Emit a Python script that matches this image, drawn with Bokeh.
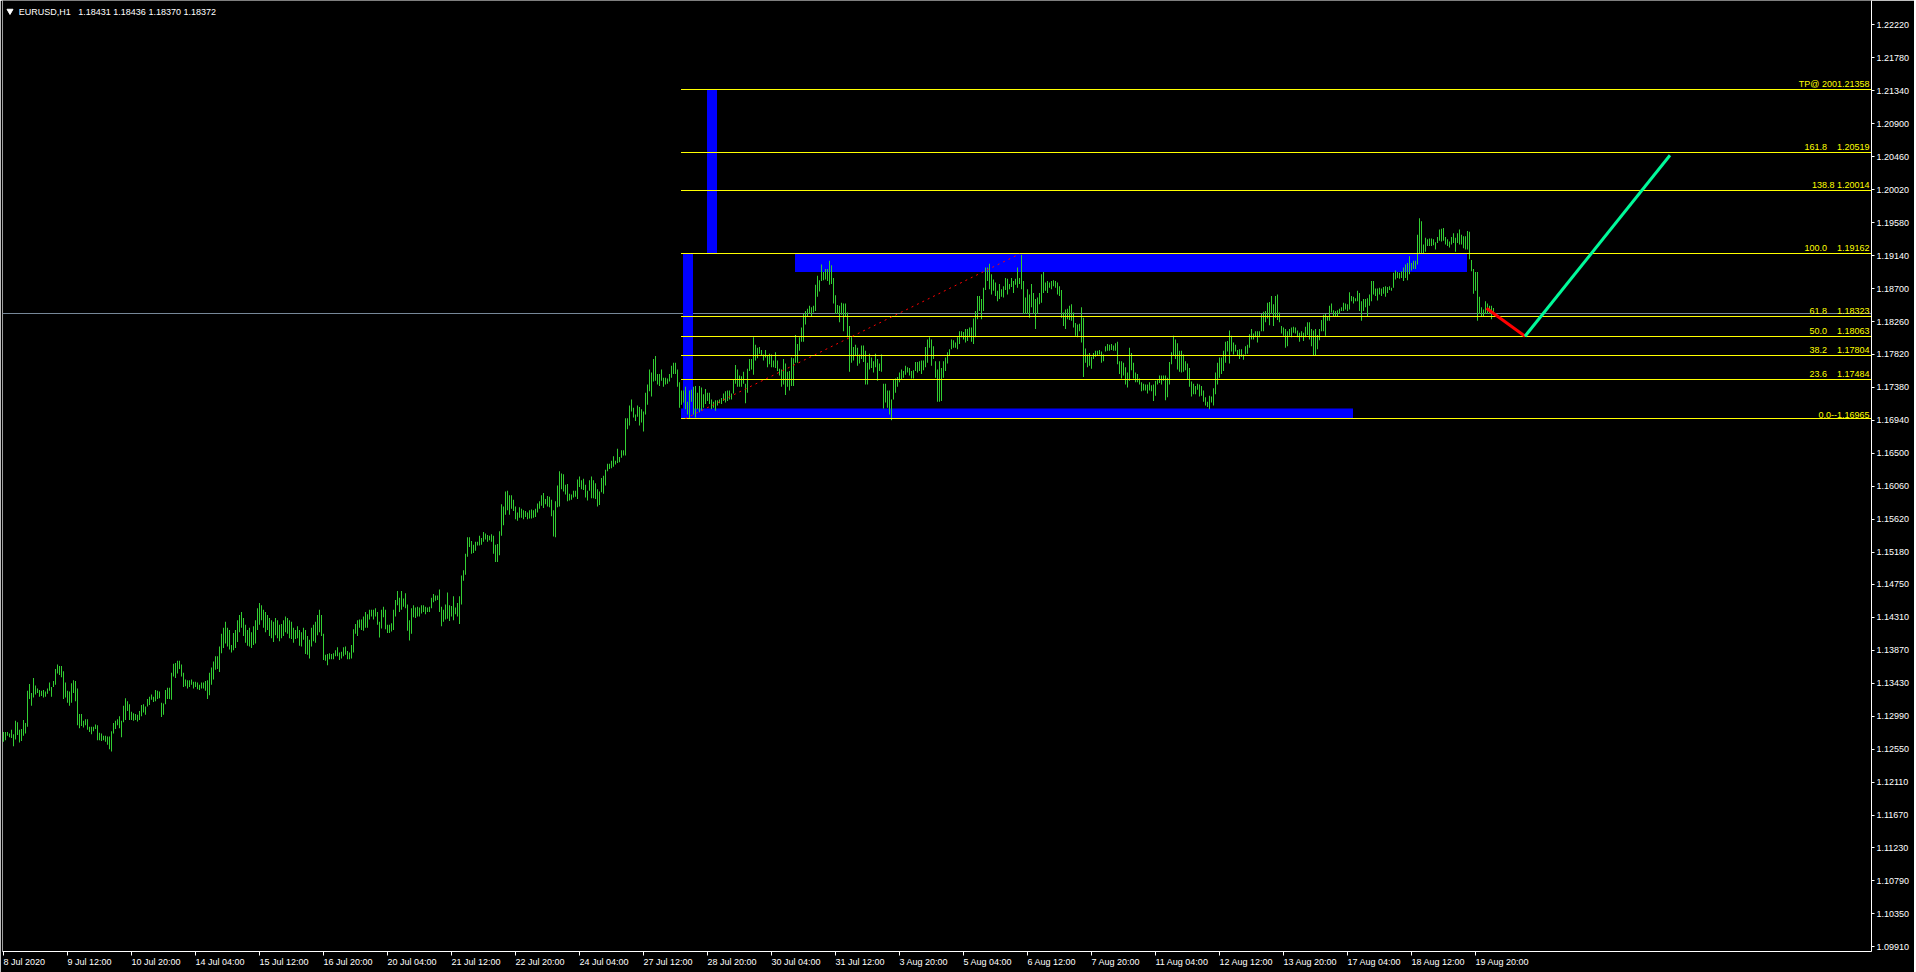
from bokeh.plotting import figure
from bokeh.models import Range1d, FixedTicker, NumeralTickFormatter, Span
from bokeh.core.properties import value
from bokeh.embed import file_html
from bokeh.resources import INLINE

# ------------------------------------------------------------------ data
symbol_title = "EURUSD,H1"
last_ohlc = ["1.18431", "1.18436", "1.18370", "1.18372"]
last_price = 1.18372

# H1 bars, one entry per hour, starting 8 Jul 2020 04:00
bar_high = [
    1.1278, 1.1278, 1.1278, 1.1276, 1.1281, 1.1275, 1.1293, 1.1291, 1.1281, 1.1282,
    1.1294, 1.1290, 1.1333, 1.1342, 1.1330, 1.1350, 1.1340, 1.1336, 1.1334, 1.1333,
    1.1334, 1.1332, 1.1336, 1.1344, 1.1338, 1.1346, 1.1362, 1.1368, 1.1366, 1.1366,
    1.1359, 1.1344, 1.1333, 1.1332, 1.1343, 1.1347, 1.1346, 1.1336, 1.1302, 1.1302,
    1.1293, 1.1295, 1.1295, 1.1285, 1.1285, 1.1285, 1.1288, 1.1287, 1.1277, 1.1276,
    1.1273, 1.1273, 1.1272, 1.1272, 1.1279, 1.1290, 1.1293, 1.1295, 1.1299, 1.1293,
    1.1313, 1.1323, 1.1319, 1.1315, 1.1305, 1.1303, 1.1302, 1.1301, 1.1306, 1.1314,
    1.1315, 1.1312, 1.1322, 1.1325, 1.1328, 1.1325, 1.1334, 1.1333, 1.1332, 1.1317,
    1.1316, 1.1334, 1.1337, 1.1337, 1.1357, 1.1369, 1.1370, 1.1373, 1.1373, 1.1368,
    1.1357, 1.1348, 1.1347, 1.1347, 1.1348, 1.1345, 1.1345, 1.1344, 1.1341, 1.1344,
    1.1344, 1.1346, 1.1347, 1.1357, 1.1364, 1.1372, 1.1379, 1.1379, 1.1392,
    1.1409, 1.1417, 1.1425, 1.1417, 1.1414, 1.1394, 1.1410, 1.1414, 1.1427, 1.1434,
    1.1438, 1.1430, 1.1421, 1.1414, 1.1417, 1.1411, 1.1419, 1.1427, 1.1443, 1.1450,
    1.1447, 1.1441, 1.1438, 1.1434, 1.1430, 1.1427, 1.1425, 1.1430, 1.1427, 1.1421,
    1.1422, 1.1427, 1.1432, 1.1430, 1.1427, 1.1425, 1.1417, 1.1414, 1.1419, 1.1414,
    1.1411, 1.1417, 1.1414, 1.1406, 1.1401, 1.1417, 1.1421, 1.1425, 1.1434, 1.1441,
    1.1434, 1.1409, 1.1381, 1.1382, 1.1383, 1.1382, 1.1383, 1.1387, 1.1391, 1.1384,
    1.1385, 1.1391, 1.1392, 1.1386, 1.1384, 1.1394, 1.1415, 1.1422, 1.1427, 1.1428,
    1.1428, 1.1432, 1.1438, 1.1435, 1.1441, 1.1441, 1.1441, 1.1443, 1.1438, 1.1425,
    1.1441, 1.1445, 1.1441, 1.1421, 1.1421, 1.1423, 1.1441, 1.1454, 1.1466, 1.1457,
    1.1466, 1.1456, 1.1463, 1.1448, 1.1427, 1.1443, 1.1447, 1.1444, 1.1445, 1.1444,
    1.1447, 1.1447, 1.1445, 1.1444, 1.1445, 1.1457, 1.1462, 1.1460, 1.1460, 1.1468,
    1.1445, 1.1441, 1.1448, 1.1464, 1.1447, 1.1446, 1.1459, 1.1444, 1.1450, 1.1459,
    1.1487, 1.1494, 1.1516, 1.1538, 1.1538, 1.1533, 1.1528, 1.1532, 1.1532, 1.1540,
    1.1537, 1.1545, 1.1543, 1.1541, 1.1540, 1.1542, 1.1540, 1.1528, 1.1529, 1.1546,
    1.1582, 1.1579, 1.1599, 1.1600, 1.1594, 1.1594, 1.1588, 1.1579, 1.1571, 1.1578,
    1.1576, 1.1574, 1.1573, 1.1571, 1.1574, 1.1575, 1.1574, 1.1576, 1.1583, 1.1586,
    1.1594, 1.1597, 1.1589, 1.1593, 1.1592, 1.1588, 1.1574, 1.1586, 1.1607, 1.1626,
    1.1623, 1.1622, 1.1608, 1.1609, 1.1596, 1.1595, 1.1600, 1.1600, 1.1615, 1.1619,
    1.1614, 1.1616, 1.1608, 1.1600, 1.1614, 1.1619, 1.1614, 1.1610, 1.1602, 1.1599,
    1.1617, 1.1620, 1.1628, 1.1636, 1.1636, 1.1640, 1.1646, 1.1640, 1.1656, 1.1645,
    1.1654, 1.1654, 1.1697, 1.1697, 1.1714, 1.1722, 1.1711, 1.1702, 1.1714, 1.1712,
    1.1709, 1.1706, 1.1731, 1.1742, 1.1762, 1.1758, 1.1776, 1.1780, 1.1756, 1.1756,
    1.1762, 1.1751, 1.1751, 1.1750, 1.1756, 1.1767, 1.1771, 1.1771, 1.1762, 1.1745,
    1.1734, 1.1734, 1.1739, 1.1719, 1.1734, 1.1735, 1.1739, 1.1740, 1.1731, 1.1740,
    1.1738, 1.1729, 1.1736, 1.1731, 1.1731, 1.1722, 1.1719, 1.1721, 1.1721, 1.1722,
    1.1724, 1.1730, 1.1733, 1.1734, 1.1734, 1.1730, 1.1749, 1.1768, 1.1762, 1.1754,
    1.1753, 1.1759, 1.1743, 1.1763, 1.1776, 1.1776, 1.1805, 1.1795, 1.1791, 1.1792,
    1.1788, 1.1782, 1.1788, 1.1781, 1.1783, 1.1782, 1.1774, 1.1785, 1.1774, 1.1763,
    1.1762, 1.1776, 1.1770, 1.1759, 1.1760, 1.1778, 1.1777, 1.1808, 1.1796, 1.1805,
    1.1818, 1.1836, 1.1840, 1.1843, 1.1847, 1.1845, 1.1847, 1.1875, 1.1887, 1.1881,
    1.1902, 1.1892, 1.1896, 1.1896, 1.1907, 1.1901, 1.1884, 1.1861, 1.1848, 1.1847,
    1.1851, 1.1850, 1.1850, 1.1838, 1.1820, 1.1805, 1.1792, 1.1795, 1.1791, 1.1782,
    1.1794, 1.1794, 1.1787, 1.1771, 1.1783, 1.1778, 1.1773, 1.1783, 1.1776, 1.1770,
    1.1782, 1.1743, 1.1743, 1.1734, 1.1734, 1.1722, 1.1749, 1.1750, 1.1752, 1.1758,
    1.1762, 1.1760, 1.1767, 1.1765, 1.1764, 1.1760, 1.1761, 1.1772, 1.1772, 1.1773,
    1.1774, 1.1774, 1.1792, 1.1802, 1.1805, 1.1802, 1.1793, 1.1773, 1.1762, 1.1773,
    1.1764, 1.1773, 1.1778, 1.1785, 1.1789, 1.1802, 1.1801, 1.1798, 1.1805, 1.1813,
    1.1813, 1.1812, 1.1816, 1.1816, 1.1818, 1.1818, 1.1830, 1.1840, 1.1860, 1.1860,
    1.1856, 1.1871, 1.1898, 1.1898, 1.1903, 1.1889, 1.1882, 1.1878, 1.1867, 1.1876,
    1.1869, 1.1873, 1.1884, 1.1883, 1.1876, 1.1884, 1.1880, 1.1883, 1.1898, 1.1884,
    1.1915, 1.1880, 1.1858, 1.1869, 1.1862, 1.1876, 1.1864, 1.1856, 1.1858, 1.1864,
    1.1889, 1.1892, 1.1878, 1.1880, 1.1878, 1.1880, 1.1881, 1.1880, 1.1878, 1.1873,
    1.1868, 1.1838, 1.1842, 1.1843, 1.1847, 1.1849, 1.1838, 1.1824, 1.1822, 1.1823,
    1.1845, 1.1831, 1.1790, 1.1782, 1.1784, 1.1779, 1.1784, 1.1787, 1.1787, 1.1788,
    1.1786, 1.1782, 1.1793, 1.1796, 1.1795, 1.1796, 1.1794, 1.1797, 1.1799, 1.1773,
    1.1773, 1.1771, 1.1765, 1.1758, 1.1791, 1.1784, 1.1771, 1.1758, 1.1756, 1.1750,
    1.1745, 1.1743, 1.1742, 1.1742, 1.1745, 1.1741, 1.1742, 1.1747, 1.1748, 1.1754,
    1.1754, 1.1754, 1.1754, 1.1751, 1.1772, 1.1785, 1.1807, 1.1802, 1.1797, 1.1787,
    1.1787, 1.1782, 1.1773, 1.1770, 1.1764, 1.1746, 1.1743, 1.1740, 1.1743, 1.1742,
    1.1740, 1.1734, 1.1725, 1.1719, 1.1727, 1.1726, 1.1737, 1.1758, 1.1771, 1.1778,
    1.1778, 1.1787, 1.1799, 1.1800, 1.1814, 1.1807, 1.1798, 1.1795, 1.1788, 1.1789,
    1.1789, 1.1782, 1.1793, 1.1795, 1.1809, 1.1816, 1.1810, 1.1813, 1.1813, 1.1813,
    1.1836, 1.1839, 1.1840, 1.1851, 1.1852, 1.1860, 1.1849, 1.1860, 1.1862, 1.1838,
    1.1820, 1.1818, 1.1816, 1.1813, 1.1816, 1.1818, 1.1819, 1.1818, 1.1814, 1.1811,
    1.1813, 1.1811, 1.1819, 1.1825, 1.1825, 1.1816, 1.1814, 1.1816, 1.1808, 1.1816,
    1.1828, 1.1835, 1.1836, 1.1833, 1.1847, 1.1850, 1.1841, 1.1840, 1.1841, 1.1843,
    1.1845, 1.1851, 1.1850, 1.1849, 1.1865, 1.1860, 1.1859, 1.1857, 1.1867, 1.1864,
    1.1853, 1.1856, 1.1856, 1.1857, 1.1862, 1.1880, 1.1880, 1.1870, 1.1870, 1.1871,
    1.1870, 1.1872, 1.1873, 1.1872, 1.1873, 1.1871, 1.1891, 1.1894, 1.1892, 1.1891,
    1.1893, 1.1898, 1.1902, 1.1904, 1.1913, 1.1904, 1.1907, 1.1907, 1.1942, 1.1964,
    1.1960, 1.1929, 1.1938, 1.1936, 1.1937, 1.1937, 1.1936, 1.1932, 1.1939, 1.1949,
    1.1950, 1.1951, 1.1939, 1.1936, 1.1933, 1.1939, 1.1944, 1.1938, 1.1944, 1.1949,
    1.1942, 1.1940, 1.1940, 1.1947, 1.1946, 1.1908, 1.1896, 1.1892, 1.1892, 1.1859,
    1.1845, 1.1842, 1.1853, 1.1850, 1.1847, 1.1847, 1.1844,
]

bar_low = [
    1.1265, 1.1267, 1.1273, 1.1271, 1.1270, 1.1259, 1.1268, 1.1274, 1.1264, 1.1266,
    1.1273, 1.1276, 1.1285, 1.1322, 1.1313, 1.1324, 1.1328, 1.1330, 1.1325, 1.1326,
    1.1324, 1.1325, 1.1329, 1.1333, 1.1325, 1.1338, 1.1341, 1.1356, 1.1354, 1.1351,
    1.1322, 1.1324, 1.1317, 1.1313, 1.1317, 1.1330, 1.1319, 1.1287, 1.1283, 1.1286,
    1.1284, 1.1287, 1.1281, 1.1278, 1.1275, 1.1279, 1.1282, 1.1267, 1.1267, 1.1266,
    1.1267, 1.1265, 1.1261, 1.1255, 1.1252, 1.1276, 1.1282, 1.1287, 1.1283, 1.1271,
    1.1291, 1.1294, 1.1306, 1.1294, 1.1294, 1.1293, 1.1294, 1.1292, 1.1294, 1.1299,
    1.1304, 1.1301, 1.1312, 1.1314, 1.1321, 1.1318, 1.1319, 1.1322, 1.1323, 1.1298,
    1.1301, 1.1315, 1.1322, 1.1322, 1.1321, 1.1352, 1.1350, 1.1356, 1.1362, 1.1352,
    1.1338, 1.1339, 1.1336, 1.1338, 1.1341, 1.1336, 1.1338, 1.1335, 1.1334, 1.1336,
    1.1336, 1.1333, 1.1322, 1.1327, 1.1341, 1.1348, 1.1361, 1.1362, 1.1358,
    1.1383, 1.1390, 1.1396, 1.1392, 1.1388, 1.1384, 1.1387, 1.1390, 1.1398, 1.1411,
    1.1417, 1.1406, 1.1397, 1.1393, 1.1392, 1.1390, 1.1394, 1.1396, 1.1414, 1.1421,
    1.1427, 1.1417, 1.1411, 1.1414, 1.1406, 1.1403, 1.1398, 1.1407, 1.1403, 1.1399,
    1.1403, 1.1406, 1.1411, 1.1409, 1.1403, 1.1402, 1.1397, 1.1402, 1.1403, 1.1393,
    1.1392, 1.1401, 1.1382, 1.1381, 1.1376, 1.1392, 1.1399, 1.1397, 1.1407, 1.1411,
    1.1406, 1.1374, 1.1373, 1.1367, 1.1375, 1.1375, 1.1375, 1.1379, 1.1379, 1.1374,
    1.1376, 1.1379, 1.1381, 1.1375, 1.1375, 1.1376, 1.1384, 1.1409, 1.1406, 1.1417,
    1.1414, 1.1413, 1.1417, 1.1417, 1.1428, 1.1432, 1.1428, 1.1432, 1.1421, 1.1404,
    1.1416, 1.1431, 1.1415, 1.1410, 1.1410, 1.1412, 1.1414, 1.1432, 1.1447, 1.1438,
    1.1441, 1.1445, 1.1443, 1.1413, 1.1400, 1.1409, 1.1431, 1.1430, 1.1432, 1.1432,
    1.1436, 1.1438, 1.1435, 1.1438, 1.1438, 1.1443, 1.1451, 1.1453, 1.1454, 1.1438,
    1.1419, 1.1425, 1.1428, 1.1429, 1.1426, 1.1432, 1.1427, 1.1435, 1.1432, 1.1422,
    1.1448, 1.1480, 1.1488, 1.1512, 1.1525, 1.1516, 1.1517, 1.1520, 1.1527, 1.1527,
    1.1528, 1.1532, 1.1535, 1.1532, 1.1534, 1.1532, 1.1516, 1.1505, 1.1505, 1.1514,
    1.1540, 1.1554, 1.1568, 1.1574, 1.1568, 1.1576, 1.1573, 1.1562, 1.1560, 1.1564,
    1.1564, 1.1562, 1.1565, 1.1562, 1.1563, 1.1563, 1.1564, 1.1565, 1.1571, 1.1576,
    1.1580, 1.1577, 1.1582, 1.1579, 1.1578, 1.1566, 1.1539, 1.1538, 1.1578, 1.1579,
    1.1602, 1.1599, 1.1595, 1.1586, 1.1587, 1.1588, 1.1591, 1.1592, 1.1589, 1.1605,
    1.1602, 1.1601, 1.1591, 1.1587, 1.1600, 1.1590, 1.1590, 1.1589, 1.1579, 1.1581,
    1.1598, 1.1596, 1.1607, 1.1626, 1.1629, 1.1630, 1.1632, 1.1635, 1.1637, 1.1638,
    1.1644, 1.1647, 1.1647, 1.1682, 1.1687, 1.1706, 1.1698, 1.1693, 1.1699, 1.1687,
    1.1691, 1.1679, 1.1702, 1.1715, 1.1733, 1.1726, 1.1746, 1.1747, 1.1742, 1.1740,
    1.1747, 1.1739, 1.1742, 1.1743, 1.1746, 1.1751, 1.1756, 1.1756, 1.1739, 1.1711,
    1.1715, 1.1718, 1.1709, 1.1702, 1.1697, 1.1719, 1.1702, 1.1698, 1.1709, 1.1705,
    1.1707, 1.1711, 1.1716, 1.1720, 1.1716, 1.1709, 1.1711, 1.1707, 1.1714, 1.1717,
    1.1716, 1.1720, 1.1718, 1.1720, 1.1722, 1.1722, 1.1730, 1.1743, 1.1739, 1.1739,
    1.1739, 1.1743, 1.1717, 1.1731, 1.1760, 1.1762, 1.1755, 1.1774, 1.1777, 1.1783,
    1.1781, 1.1774, 1.1778, 1.1765, 1.1769, 1.1765, 1.1765, 1.1764, 1.1760, 1.1754,
    1.1739, 1.1742, 1.1728, 1.1739, 1.1734, 1.1740, 1.1740, 1.1771, 1.1771, 1.1787,
    1.1799, 1.1799, 1.1822, 1.1832, 1.1837, 1.1832, 1.1838, 1.1840, 1.1859, 1.1866,
    1.1880, 1.1881, 1.1882, 1.1880, 1.1875, 1.1876, 1.1850, 1.1836, 1.1836, 1.1825,
    1.1835, 1.1813, 1.1832, 1.1805, 1.1759, 1.1771, 1.1774, 1.1780, 1.1767, 1.1770,
    1.1776, 1.1772, 1.1742, 1.1742, 1.1762, 1.1764, 1.1758, 1.1765, 1.1747, 1.1760,
    1.1759, 1.1710, 1.1718, 1.1711, 1.1702, 1.1694, 1.1722, 1.1731, 1.1739, 1.1745,
    1.1748, 1.1751, 1.1755, 1.1758, 1.1754, 1.1750, 1.1750, 1.1760, 1.1758, 1.1760,
    1.1756, 1.1761, 1.1765, 1.1771, 1.1791, 1.1767, 1.1776, 1.1751, 1.1719, 1.1719,
    1.1720, 1.1751, 1.1760, 1.1770, 1.1780, 1.1789, 1.1791, 1.1791, 1.1789, 1.1796,
    1.1805, 1.1802, 1.1798, 1.1800, 1.1805, 1.1799, 1.1796, 1.1805, 1.1829, 1.1840,
    1.1829, 1.1840, 1.1868, 1.1880, 1.1869, 1.1862, 1.1867, 1.1860, 1.1853, 1.1856,
    1.1859, 1.1858, 1.1868, 1.1862, 1.1869, 1.1872, 1.1864, 1.1875, 1.1871, 1.1876,
    1.1869, 1.1836, 1.1836, 1.1836, 1.1831, 1.1845, 1.1836, 1.1816, 1.1836, 1.1849,
    1.1851, 1.1864, 1.1867, 1.1864, 1.1871, 1.1869, 1.1873, 1.1871, 1.1862, 1.1860,
    1.1831, 1.1820, 1.1816, 1.1829, 1.1828, 1.1827, 1.1818, 1.1807, 1.1805, 1.1813,
    1.1798, 1.1752, 1.1771, 1.1765, 1.1767, 1.1763, 1.1776, 1.1779, 1.1780, 1.1782,
    1.1771, 1.1773, 1.1786, 1.1787, 1.1787, 1.1788, 1.1787, 1.1787, 1.1769, 1.1756,
    1.1750, 1.1754, 1.1742, 1.1738, 1.1747, 1.1761, 1.1750, 1.1745, 1.1745, 1.1742,
    1.1733, 1.1734, 1.1734, 1.1730, 1.1734, 1.1733, 1.1720, 1.1727, 1.1742, 1.1744,
    1.1742, 1.1747, 1.1721, 1.1725, 1.1742, 1.1769, 1.1780, 1.1776, 1.1762, 1.1759,
    1.1758, 1.1759, 1.1761, 1.1749, 1.1739, 1.1726, 1.1729, 1.1729, 1.1735, 1.1726,
    1.1727, 1.1719, 1.1714, 1.1712, 1.1709, 1.1718, 1.1714, 1.1729, 1.1742, 1.1751,
    1.1756, 1.1760, 1.1771, 1.1786, 1.1770, 1.1786, 1.1782, 1.1786, 1.1781, 1.1776,
    1.1779, 1.1775, 1.1782, 1.1783, 1.1791, 1.1802, 1.1802, 1.1805, 1.1798, 1.1805,
    1.1813, 1.1813, 1.1825, 1.1830, 1.1821, 1.1836, 1.1820, 1.1831, 1.1828, 1.1825,
    1.1810, 1.1807, 1.1791, 1.1793, 1.1807, 1.1805, 1.1811, 1.1810, 1.1805, 1.1799,
    1.1805, 1.1800, 1.1805, 1.1808, 1.1802, 1.1793, 1.1781, 1.1780, 1.1789, 1.1801,
    1.1813, 1.1813, 1.1807, 1.1827, 1.1827, 1.1838, 1.1833, 1.1832, 1.1832, 1.1836,
    1.1840, 1.1840, 1.1842, 1.1840, 1.1842, 1.1853, 1.1850, 1.1853, 1.1853, 1.1840,
    1.1827, 1.1840, 1.1845, 1.1832, 1.1847, 1.1853, 1.1862, 1.1860, 1.1854, 1.1862,
    1.1860, 1.1863, 1.1859, 1.1864, 1.1868, 1.1867, 1.1871, 1.1882, 1.1884, 1.1883,
    1.1884, 1.1880, 1.1884, 1.1881, 1.1889, 1.1894, 1.1896, 1.1896, 1.1902, 1.1916,
    1.1916, 1.1916, 1.1919, 1.1927, 1.1927, 1.1927, 1.1928, 1.1922, 1.1931, 1.1934,
    1.1933, 1.1934, 1.1929, 1.1927, 1.1925, 1.1929, 1.1931, 1.1919, 1.1931, 1.1929,
    1.1929, 1.1924, 1.1922, 1.1922, 1.1909, 1.1893, 1.1863, 1.1867, 1.1827, 1.1836,
    1.1833, 1.1832, 1.1836, 1.1836, 1.1836, 1.1829, 1.1837,
]

# time axis: one label every 32 bars
x_tick_bars = [0, 32, 64, 96, 128, 160, 192, 224, 256, 288, 320, 352,
               384, 416, 448, 480, 512, 544, 576, 608, 640, 672, 704, 736]
x_tick_labels = ["8 Jul 2020", "9 Jul 12:00", "10 Jul 20:00", "14 Jul 04:00",
                 "15 Jul 12:00", "16 Jul 20:00", "20 Jul 04:00", "21 Jul 12:00",
                 "22 Jul 20:00", "24 Jul 04:00", "27 Jul 12:00", "28 Jul 20:00",
                 "30 Jul 04:00", "31 Jul 12:00", "3 Aug 20:00", "5 Aug 04:00",
                 "6 Aug 12:00", "7 Aug 20:00", "11 Aug 04:00", "12 Aug 12:00",
                 "13 Aug 20:00", "17 Aug 04:00", "18 Aug 12:00", "19 Aug 20:00"]

y_tick_values = [1.22220, 1.21780, 1.21340, 1.20900, 1.20460, 1.20020, 1.19580,
                 1.19140, 1.18700, 1.18260, 1.17820, 1.17380, 1.16940, 1.16500,
                 1.16060, 1.15620, 1.15180, 1.14750, 1.14310, 1.13870, 1.13430,
                 1.12990, 1.12550, 1.12110, 1.11670, 1.11230, 1.10790, 1.10350,
                 1.09910]

# Fibonacci expansion levels (price) and their on-chart captions
NB = "\u00a0"
fib_prices = [1.16965, 1.17484, 1.17804, 1.18063, 1.18323, 1.19162, 1.20014, 1.20519, 1.21358]
fib_captions = ["0.0--1.16965",
                "23.6" + NB * 4 + "1.17484",
                "38.2" + NB * 4 + "1.17804",
                "50.0" + NB * 4 + "1.18063",
                "61.8" + NB * 4 + "1.18323",
                "100.0" + NB * 4 + "1.19162",
                "138.8" + NB + "1.20014",
                "161.8" + NB * 4 + "1.20519",
                "TP@ 2001.21358"]
fib_start_bar = 338.75
fib_anchor_bars = [341, 508]
fib_anchor_prices = [1.16965, 1.19162]

# blue zones (bar index / price)
zone_left = [339.75, 351.75, 395.75, 338.75]
zone_right = [344.75, 356.75, 731.75, 674.75]
zone_bottom = [1.16965, 1.19162, 1.18920, 1.16965]
zone_top = [1.19162, 1.21358, 1.19162, 1.17100]

# projected path
proj_down_bars = [741.5, 760.75]
proj_down_prices = [1.18436, 1.18063]
proj_up_bars = [760.75, 833.25]
proj_up_prices = [1.18063, 1.20480]

# ------------------------------------------------------------------ layout
PX_X = 2.0       # pixels per bar
PX_Y = 7489.0    # pixels per price unit
FRAME_W, FRAME_H = 1869, 951
# ranges are shifted by half a pixel so 1 px bars/lines land on whole pixels
X_START = -0.5
X_END = X_START + FRAME_W / PX_X
Y_TOP = 1.225532 - 0.5 / PX_Y
Y_BOTTOM = Y_TOP - FRAME_H / PX_Y
FONT = "Liberation Sans"
FS = "9px"


def snap(price):
    """Move a horizontal 1 px line onto a whole pixel row."""
    return Y_TOP - round((Y_TOP - price) * PX_Y) / PX_Y


p = figure(frame_width=FRAME_W, frame_height=FRAME_H,
           x_range=Range1d(X_START, X_END), y_range=Range1d(Y_BOTTOM, Y_TOP),
           output_backend="svg", toolbar_location=None, y_axis_location="right",
           background_fill_color="black", border_fill_color="black",
           outline_line_color=None,
           min_border_left=2, min_border_top=0, min_border_right=43, min_border_bottom=0)
p.grid.visible = False

for ax in list(p.xaxis) + list(p.yaxis):
    ax.axis_line_color = "white"
    ax.axis_line_width = 1
    ax.major_tick_line_color = "white"
    ax.minor_tick_line_color = None
    ax.major_tick_in = 0
    ax.major_label_text_color = "white"
    ax.major_label_text_font = FONT
    ax.major_label_text_font_size = FS

yax = p.yaxis[0]
yax.ticker = FixedTicker(ticks=y_tick_values)
yax.formatter = NumeralTickFormatter(format="0.00000")
yax.major_tick_out = 3
yax.major_label_standoff = 2

xax = p.xaxis[0]
xax.ticker = FixedTicker(ticks=x_tick_bars)
xax.major_label_overrides = {b: lab for b, lab in zip(x_tick_bars, x_tick_labels)}
xax.major_label_orientation = -0.0001   # practically horizontal, left-aligned at tick
xax.major_tick_out = 4
xax.major_label_standoff = 6

# left frame border and bid line
p.add_layout(Span(location=X_START + 0.01, dimension="height", line_color="white",
                  line_width=1, level="underlay"))
p.add_layout(Span(location=snap(last_price), dimension="width", line_color="#778899",
                  line_width=1, level="underlay"))

# zones (background objects)
p.quad(left=zone_left, right=zone_right, bottom=zone_bottom, top=zone_top,
       fill_color="#0000ff", line_color=None)

# price bars (1 px wide high-low bars)
idx = list(range(min(len(bar_high), len(bar_low))))
p.vbar(x=idx, width=1.0 / PX_X, bottom=bar_low[:len(idx)], top=bar_high[:len(idx)],
       fill_color="#32cd32", line_color=None)

# fibonacci levels
fib_rows = [snap(v) for v in fib_prices]
p.segment(x0=[fib_start_bar] * len(fib_prices), y0=fib_rows,
          x1=[X_END + 10] * len(fib_prices), y1=fib_rows,
          line_color="#ffff00", line_width=1)
p.text(x=[X_END] * len(fib_prices), y=fib_rows, text=fib_captions,
       text_align="right", text_baseline="bottom", x_offset=-2, y_offset=-1,
       text_color="#ffff00", text_font=value(FONT), text_font_size=FS)
p.line(fib_anchor_bars, fib_anchor_prices, line_color="#ff0000", line_width=1,
       line_dash="2 4")

# projection
p.line(proj_down_bars, proj_down_prices, line_color="#ff0000", line_width=3)
p.line(proj_up_bars, proj_up_prices, line_color="#00fa9a", line_width=3)

# title
p.scatter(x=[X_START + 7.5 / PX_X], y=[Y_TOP - 10.5 / PX_Y], marker="inverted_triangle",
          size=6, color="white")
p.text(x=[X_START + 16.3 / PX_X], y=[Y_TOP - 11.0 / PX_Y],
       text=[symbol_title + NB + NB + " " + " ".join(last_ohlc)],
       text_align="left", text_baseline="middle", text_color="white",
       text_font=value(FONT), text_font_size=FS)

open("out.html", "w").write(file_html(p, INLINE))
